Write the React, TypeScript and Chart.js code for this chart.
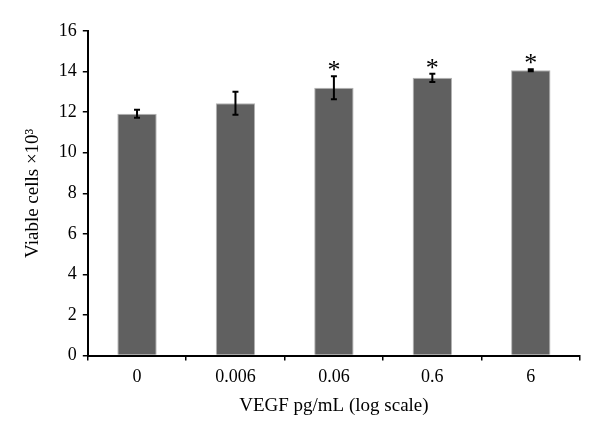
import React, { useEffect, useRef } from "react";
import { Chart, registerables } from "chart.js";

Chart.register(...registerables);

const categories = ["0", "0.006", "0.06", "0.6", "6"];
const values = [11.92, 12.44, 13.2, 13.69, 14.07];
const errors = [0.2, 0.57, 0.57, 0.2, 0.05];
const significant = [false, false, true, true, true];
const yTicks = [0, 2, 4, 6, 8, 10, 12, 14, 16];

const FONT = "'Liberation Serif', 'DejaVu Serif', serif";

const errorBarPlugin = {
  id: "errorBars",
  afterDatasetsDraw(chart: any) {
    const ctx = chart.ctx;
    const meta = chart.getDatasetMeta(0);
    const y = chart.scales.y;
    ctx.save();
    meta.data.forEach((bar: any, i: number) => {
      const x = bar.x;
      const top = y.getPixelForValue(values[i] + errors[i]);
      const bot = y.getPixelForValue(values[i] - errors[i]);
      ctx.strokeStyle = "#000";
      ctx.lineWidth = 2;
      ctx.beginPath();
      ctx.moveTo(x, top);
      ctx.lineTo(x, bot);
      ctx.moveTo(x - 3, top);
      ctx.lineTo(x + 3, top);
      ctx.moveTo(x - 3, bot);
      ctx.lineTo(x + 3, bot);
      ctx.stroke();
      if (significant[i]) {
        ctx.fillStyle = "#000";
        ctx.font = `26px ${FONT}`;
        ctx.textAlign = "center";
        ctx.textBaseline = "alphabetic";
        ctx.fillText("*", x, top + 2);
      }
    });
    ctx.restore();
  },
};

export default function App() {
  const ref = useRef<HTMLCanvasElement>(null);
  useEffect(() => {
    const chart = new Chart(ref.current!, {
      type: "bar",
      data: {
        labels: categories,
        datasets: [
          {
            data: values,
            backgroundColor: "#606060",
            borderColor: "#b4b4b4",
            borderWidth: 1,
            categoryPercentage: 1,
            barPercentage: 0.4,
          },
        ],
      },
      options: {
        animation: false,
        responsive: false,
        devicePixelRatio: 1,
        layout: { padding: { left: 18, right: 20, top: 31, bottom: 16 } },
        plugins: { legend: { display: false }, tooltip: { enabled: false } },
        scales: {
          x: {
            offset: true,
            grid: {
              display: true,
              offset: true,
              drawOnChartArea: false,
              tickLength: 5,
              color: "#000",
              lineWidth: 1.5,
            },
            border: { color: "#000", width: 2 },
            ticks: { color: "#000", font: { family: FONT, size: 18 }, padding: 6 },
            title: {
              display: true,
              text: "VEGF pg/mL (log scale)",
              color: "#000",
              font: { family: FONT, size: 19 },
              padding: { top: 0 },
            },
          },
          y: {
            min: 0,
            max: 16,
            afterBuildTicks: (axis: any) => {
              axis.ticks = yTicks.map((v) => ({ value: v }));
            },
            grid: {
              display: true,
              drawOnChartArea: false,
              tickLength: 5,
              color: "#000",
              lineWidth: 1.5,
            },
            border: { color: "#000", width: 2 },
            ticks: { color: "#000", font: { family: FONT, size: 18 }, padding: 6 },
            title: {
              display: true,
              text: "Viable cells ×10³",
              color: "#000",
              font: { family: FONT, size: 19 },
              padding: { bottom: 8 },
            },
          },
        },
      },
      plugins: [errorBarPlugin],
    });
    return () => chart.destroy();
  }, []);
  return (
    <div style={{ position: "fixed", left: 0, top: 0, width: 600, height: 437, background: "#fff" }}>
      <canvas ref={ref} width={600} height={437} />
    </div>
  );
}
